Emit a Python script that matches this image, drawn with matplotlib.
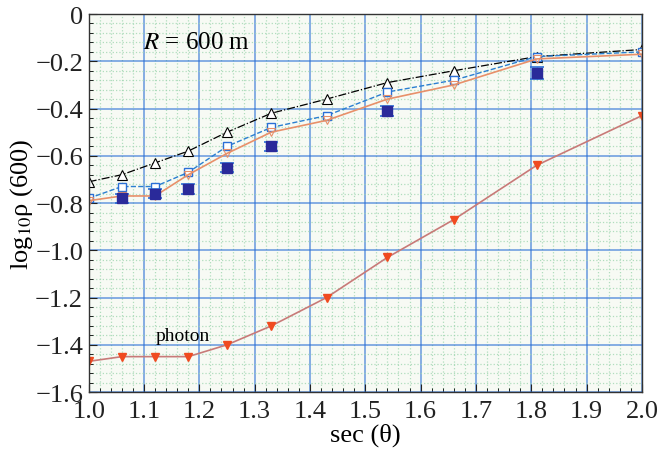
import matplotlib
matplotlib.use("Agg")
import matplotlib.pyplot as plt
from matplotlib.ticker import MultipleLocator

plt.rcParams['font.family'] = ['Liberation Serif', 'DejaVu Serif']
plt.rcParams['mathtext.fontset'] = 'stix'

sec = [1.0, 1.06, 1.12, 1.18, 1.25, 1.33, 1.43, 1.54, 1.66, 1.81, 2.0]
tri_up = [-0.71, -0.68, -0.63, -0.58, -0.50, -0.42, -0.36, -0.29, -0.24, -0.18, -0.15]
squares = [-0.78, -0.73, -0.73, -0.67, -0.56, -0.48, -0.43, -0.33, -0.28, -0.18, -0.16]
tri_down = [-0.79, -0.77, -0.77, -0.68, -0.59, -0.50, -0.45, -0.36, -0.30, -0.19, -0.17]
photon = [-1.47, -1.45, -1.45, -1.45, -1.40, -1.32, -1.20, -1.03, -0.87, -0.64, -0.43]

data_sec = [1.06, 1.12, 1.18, 1.25, 1.33, 1.54, 1.81]
data_val = [-0.78, -0.76, -0.74, -0.65, -0.56, -0.41, -0.25]
data_err = [0.02, 0.02, 0.02, 0.02, 0.02, 0.02, 0.025]

fig = plt.figure(figsize=(6.57, 4.56), dpi=100)
ax = fig.add_axes([0.135, 0.138, 0.842, 0.829])
ax.set_facecolor('#f7faf4')

ax.set_xlim(1.0, 2.0)
ax.set_ylim(-1.6, 0)
ax.xaxis.set_major_locator(MultipleLocator(0.1))
ax.xaxis.set_minor_locator(MultipleLocator(0.02))
ax.yaxis.set_major_locator(MultipleLocator(0.2))
ax.yaxis.set_minor_locator(MultipleLocator(0.04))

# textured background and grid
ax.grid(which='minor', color='#9fd6b0', linestyle=':', linewidth=0.9, alpha=0.8)
ax.grid(which='major', color='#f2a0b8', linewidth=3.2, alpha=0.6)
ax.grid(which='major', color='#2a6fd6', linewidth=1.3)
ax.set_axisbelow(True)

ax.plot(sec, tri_up, color='black', linestyle='-.', linewidth=0.9,
        marker='^', markersize=7, markerfacecolor='white', markeredgecolor='black', markeredgewidth=0.8)
ax.plot(sec, squares, color='#2a7fd0', linestyle='--', linewidth=1.0,
        marker='s', markersize=6, markerfacecolor='white', markeredgecolor='#2a6fd6', markeredgewidth=1.0)
ax.plot(sec, tri_down, color='#e8906a', linestyle='-', linewidth=1.2,
        marker='v', markersize=6, markerfacecolor='none', markeredgecolor='#e8906a', markeredgewidth=0.8)
ax.errorbar(data_sec, data_val, yerr=data_err, fmt='s', color='#2a2a9a', markersize=7,
            ecolor='#2a6fd6', elinewidth=1.0, capsize=5, capthick=1.2)
ax.plot(sec, photon, color='#c87a78', linestyle='-', linewidth=1.2,
        marker='v', markersize=6, markerfacecolor='#f04a20', markeredgecolor='#f04a20')

ax.text(1.17, -1.36, 'photon', fontsize=14, ha='center', va='center')
ax.text(1.195, -0.12, r'$R$ = 600 m', fontsize=18, ha='center', va='center')

ax.set_xlabel('sec (θ)', fontsize=19, labelpad=0)
ax.set_ylabel(r'log$_{10}$ρ (600)', fontsize=19, labelpad=0)
ax.tick_params(which='major', direction='in', length=6, labelsize=19, pad=4, colors='#222222')
ax.tick_params(axis='x', which='major', pad=6)
ax.tick_params(which='minor', direction='in', length=3)
ax.set_xticklabels([f'{v:.1f}' for v in ax.get_xticks()])
ax.set_yticklabels(['0' if abs(v) < 1e-9 else f'{v:.1f}'.replace('-', '\u2212') for v in ax.get_yticks()])
for s in ax.spines.values():
    s.set_color('#333333')
    s.set_linewidth(1.0)

fig.savefig('out.png', dpi=100)
